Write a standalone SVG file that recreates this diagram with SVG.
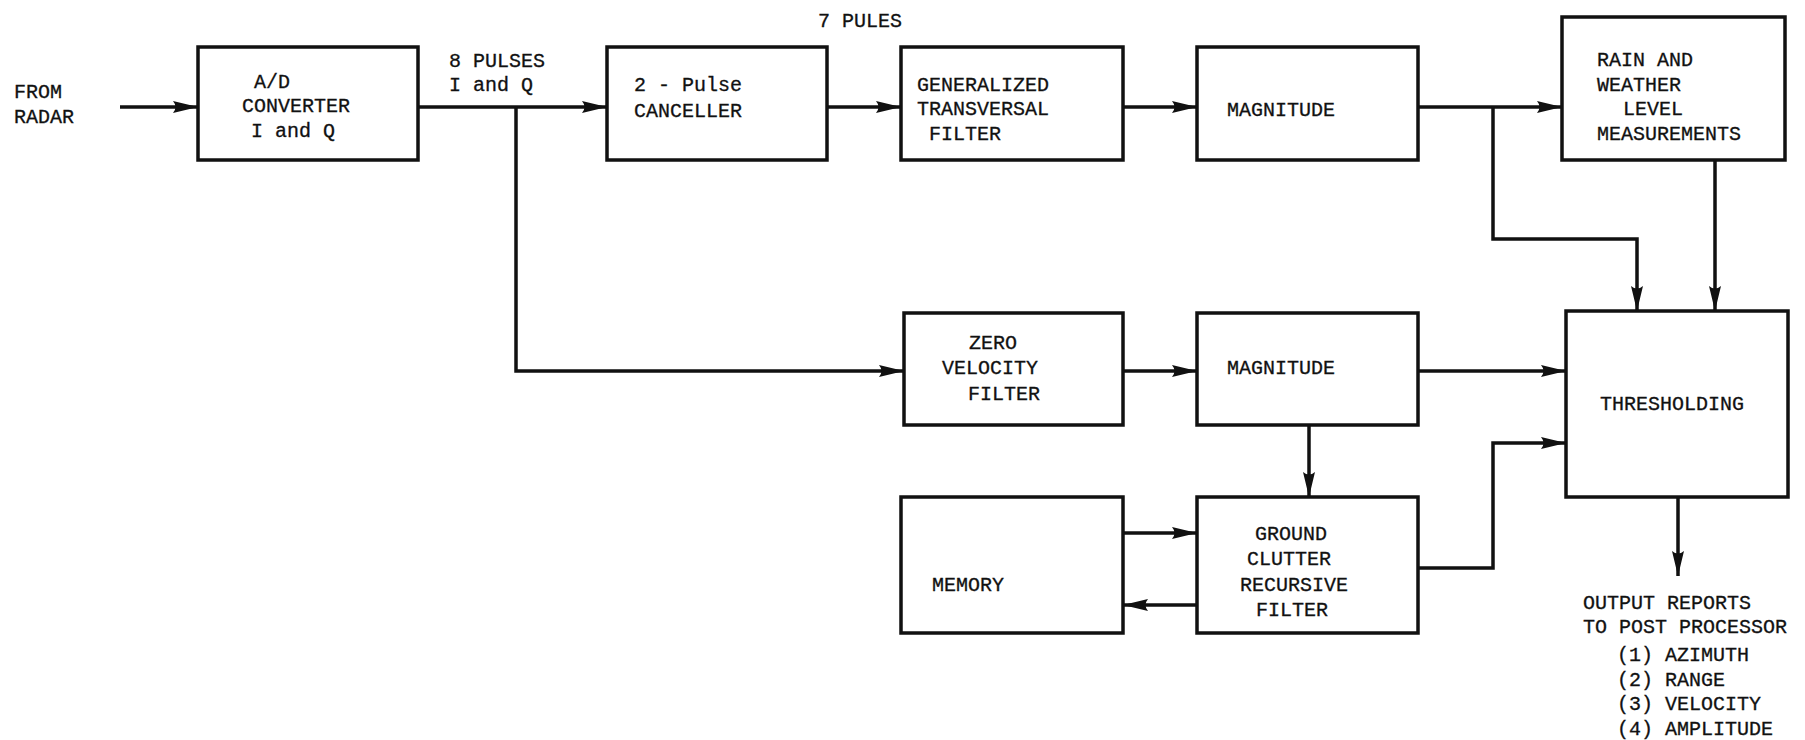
<svg xmlns="http://www.w3.org/2000/svg" width="1805" height="740" viewBox="0 0 1805 740">
<defs>
<marker id="ah" markerUnits="userSpaceOnUse" markerWidth="28" markerHeight="16" refX="25" refY="8" orient="auto">
<path d="M0,2 L25,8 L0,14 Q5,8 0,2 z" fill="#111"/>
</marker>
</defs>
<style>
.box{fill:#fff;stroke:#111;stroke-width:3.5}
.ln{fill:none;stroke:#111;stroke-width:3.5}
.t{font-family:"Liberation Mono","DejaVu Sans Mono",monospace;font-size:20px;fill:#111;stroke:#111;stroke-width:0.3}
</style>
<rect width="1805" height="740" fill="#fff"/>
<g id="connectors">
<path class="ln" d="M120,107 H198" marker-end="url(#ah)"/>
<path class="ln" d="M418,107 H607" marker-end="url(#ah)"/>
<path class="ln" d="M516,107 V371 H904" marker-end="url(#ah)"/>
<path class="ln" d="M827,107 H901" marker-end="url(#ah)"/>
<path class="ln" d="M1123,107 H1197" marker-end="url(#ah)"/>
<path class="ln" d="M1418,107 H1562" marker-end="url(#ah)"/>
<path class="ln" d="M1493,107 V239 H1637 V311" marker-end="url(#ah)"/>
<path class="ln" d="M1715,160 V311" marker-end="url(#ah)"/>
<path class="ln" d="M1123,371 H1197" marker-end="url(#ah)"/>
<path class="ln" d="M1418,371 H1566" marker-end="url(#ah)"/>
<path class="ln" d="M1309,425 V497" marker-end="url(#ah)"/>
<path class="ln" d="M1418,568 H1493 V443 H1566" marker-end="url(#ah)"/>
<path class="ln" d="M1123,533 H1197" marker-end="url(#ah)"/>
<path class="ln" d="M1197,605 H1123" marker-end="url(#ah)"/>
<path class="ln" d="M1678,497 V576" marker-end="url(#ah)"/>
</g>
<g id="from-radar">
<text class="t" x="14" y="98">FROM</text>
<text class="t" x="14" y="123">RADAR</text>
</g>
<g id="ad-converter">
<rect class="box" x="198" y="47" width="220" height="113"/>
<text class="t" x="254" y="88">A/D</text>
<text class="t" x="242" y="112">CONVERTER</text>
<text class="t" x="251" y="137">I and Q</text>
</g>
<g id="label-8-pulses">
<text class="t" x="449" y="67">8 PULSES</text>
<text class="t" x="449" y="91">I and Q</text>
</g>
<g id="label-7-pules">
<text class="t" x="818" y="27">7 PULES</text>
</g>
<g id="pulse-canceller">
<rect class="box" x="607" y="47" width="220" height="113"/>
<text class="t" x="634" y="91">2 - Pulse</text>
<text class="t" x="634" y="117">CANCELLER</text>
</g>
<g id="transversal-filter">
<rect class="box" x="901" y="47" width="222" height="113"/>
<text class="t" x="917" y="91">GENERALIZED</text>
<text class="t" x="917" y="115">TRANSVERSAL</text>
<text class="t" x="929" y="140">FILTER</text>
</g>
<g id="magnitude-1">
<rect class="box" x="1197" y="47" width="221" height="113"/>
<text class="t" x="1227" y="116">MAGNITUDE</text>
</g>
<g id="rain-weather">
<rect class="box" x="1562" y="17" width="223" height="143"/>
<text class="t" x="1597" y="66">RAIN AND</text>
<text class="t" x="1597" y="91">WEATHER</text>
<text class="t" x="1623" y="115">LEVEL</text>
<text class="t" x="1597" y="140">MEASUREMENTS</text>
</g>
<g id="zero-velocity-filter">
<rect class="box" x="904" y="313" width="219" height="112"/>
<text class="t" x="969" y="349">ZERO</text>
<text class="t" x="942" y="374">VELOCITY</text>
<text class="t" x="968" y="400">FILTER</text>
</g>
<g id="magnitude-2">
<rect class="box" x="1197" y="313" width="221" height="112"/>
<text class="t" x="1227" y="374">MAGNITUDE</text>
</g>
<g id="thresholding">
<rect class="box" x="1566" y="311" width="222" height="186"/>
<text class="t" x="1600" y="410">THRESHOLDING</text>
</g>
<g id="memory">
<rect class="box" x="901" y="497" width="222" height="136"/>
<text class="t" x="932" y="591">MEMORY</text>
</g>
<g id="ground-clutter-filter">
<rect class="box" x="1197" y="497" width="221" height="136"/>
<text class="t" x="1255" y="540">GROUND</text>
<text class="t" x="1247" y="565">CLUTTER</text>
<text class="t" x="1240" y="591">RECURSIVE</text>
<text class="t" x="1256" y="616">FILTER</text>
</g>
<g id="output-reports">
<text class="t" x="1583" y="609">OUTPUT REPORTS</text>
<text class="t" x="1583" y="633">TO POST PROCESSOR</text>
<text class="t" x="1617" y="661">(1) AZIMUTH</text>
<text class="t" x="1617" y="686">(2) RANGE</text>
<text class="t" x="1617" y="710">(3) VELOCITY</text>
<text class="t" x="1617" y="735">(4) AMPLITUDE</text>
</g>
</svg>
